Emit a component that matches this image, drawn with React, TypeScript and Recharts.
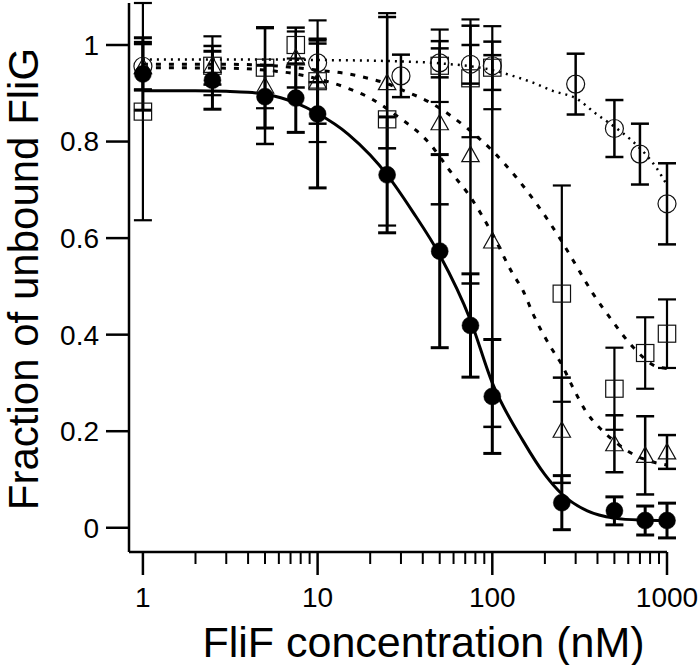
import React from 'react';
import { ComposedChart, Line, Scatter, XAxis, YAxis, ErrorBar } from 'recharts';

const FONT = '"Liberation Sans", Arial, Helvetica, sans-serif';

// FliF concentrations (nM)
const concMain = [1, 2.5, 5, 7.5, 10, 25, 50, 75, 100, 250, 500, 750, 1000];
const concOpenCircle = [1, 10, 30, 50, 75, 100, 300, 500, 700, 1000];

// Filled circles (solid fit)
const filledY = [0.94, 0.927, 0.893, 0.89, 0.857, 0.731, 0.573, 0.419, 0.272, 0.052, 0.035, 0.015, 0.015];
const filledErr = [0.075, 0.06, 0.065, 0.071, 0.153, 0.12, 0.2, 0.107, 0.118, 0.056, 0.029, 0.03, 0.036];

// Open triangles (lower dashed fit)
const triangleY = [0.955, 0.958, 0.915, 0.974, 0.925, 0.922, 0.839, 0.773, 0.594, 0.202, 0.174, 0.15, 0.157];
const triangleErr = [0.047, 0.04, 0.12, 0.062, 0.088, 0.136, 0.169, 0.267, 0.385, 0.109, 0.059, 0.081, 0.035];

// Open squares (upper dashed fit)
const squareY = [0.862, 0.957, 0.953, 1.0, 0.925, 0.846, 0.957, 0.931, 0.953, 0.485, 0.288, 0.362, 0.402];
const squareErr = [0.225, 0.061, 0.084, 0.028, 0.126, 0.22, 0.075, 0.122, 0.086, 0.224, 0.085, 0.074, 0.071];

// Open circles (dotted fit)
const openCircleY = [0.956, 0.963, 0.936, 0.963, 0.96, 0.957, 0.919, 0.827, 0.774, 0.671];
const openCircleErr = [0.05, 0.04, 0.044, 0.03, 0.04, 0.05, 0.063, 0.059, 0.063, 0.084];

// Fit curves
const fitFilledX = [1, 2, 3, 4, 5, 7.5, 10, 15, 20, 25, 35, 50, 75, 100, 150, 200, 250, 350, 500, 700, 1000];
const fitFilledY = [0.905, 0.905, 0.904, 0.902, 0.898, 0.88, 0.858, 0.815, 0.772, 0.731, 0.655, 0.565, 0.43, 0.3, 0.18, 0.11, 0.07, 0.035, 0.02, 0.016, 0.015];

const fitTriangleX = [1, 3, 5, 7.5, 10, 15, 20, 30, 37, 44, 57, 74, 100, 131, 150, 171, 222, 248, 289, 345, 411, 490, 572, 728, 1000];
const fitTriangleY = [0.953, 0.952, 0.948, 0.94, 0.93, 0.91, 0.89, 0.847, 0.822, 0.795, 0.74, 0.688, 0.609, 0.526, 0.491, 0.443, 0.367, 0.34, 0.291, 0.24, 0.207, 0.182, 0.163, 0.143, 0.13];

const fitSquareX = [1, 3, 5, 10, 15, 20, 25, 30, 44, 71, 100, 137, 180, 248, 300, 377, 470, 640, 870, 1000];
const fitSquareY = [0.96, 0.96, 0.958, 0.948, 0.94, 0.93, 0.92, 0.908, 0.881, 0.829, 0.781, 0.726, 0.67, 0.595, 0.545, 0.485, 0.436, 0.374, 0.334, 0.33];

const fitCircleX = [1, 5, 10, 30, 50, 100, 131, 171, 222, 303, 394, 490, 611, 762, 868, 1000];
const fitCircleY = [0.97, 0.97, 0.969, 0.966, 0.962, 0.948, 0.936, 0.922, 0.905, 0.889, 0.857, 0.833, 0.806, 0.772, 0.746, 0.71];

// Axis ticks
const xTicks = [1, 2, 3, 4, 5, 6, 7, 8, 9, 10, 20, 30, 40, 50, 60, 70, 80, 90, 100, 200, 300, 400, 500, 600, 700, 800, 900, 1000];
const xMajorTicks = [1, 10, 100, 1000];
const yTicks = [0, 0.2, 0.4, 0.6, 0.8, 1];

const pts = (xs: number[], ys: number[], es?: number[]) =>
  xs.map((x, i) => (es ? { x, y: ys[i], err: es[i] } : { x, y: ys[i] }));

const filledData = pts(concMain, filledY, filledErr);
const triangleData = pts(concMain, triangleY, triangleErr);
const squareData = pts(concMain, squareY, squareErr);
const openCircleData = pts(concOpenCircle, openCircleY, openCircleErr);

const fitFilled = pts(fitFilledX, fitFilledY);
const fitTriangle = pts(fitTriangleX, fitTriangleY);
const fitSquare = pts(fitSquareX, fitSquareY);
const fitCircle = pts(fitCircleX, fitCircleY);

const FilledDot = (p: any) => <circle cx={p.cx} cy={p.cy} r={8.5} fill="#000" stroke="#000" strokeWidth={0.5} />;
const OpenDot = (p: any) => <circle cx={p.cx} cy={p.cy} r={9} fill="none" stroke="#111" strokeWidth={1.2} />;
const OpenSquare = (p: any) => (
  <rect x={p.cx - 8.7} y={p.cy - 8.5} width={17.4} height={17} fill="none" stroke="#111" strokeWidth={1.2} />
);
const OpenTriangle = (p: any) => (
  <polygon
    points={`${p.cx},${p.cy - 8.5} ${p.cx - 8.7},${p.cy + 7} ${p.cx + 8.7},${p.cy + 7}`}
    fill="none"
    stroke="#111"
    strokeWidth={1.2}
  />
);

const XTick = (props: any) => {
  const { x, y, payload } = props;
  const v = payload.value;
  const major = xMajorTicks.includes(v);
  return (
    <g>
      <line x1={x} x2={x} y1={y} y2={y + (major ? 23 : 12)} stroke="#000" strokeWidth={major ? 2.5 : 2} />
      {major && (
        <text x={x} y={y + 55} textAnchor="middle" fontSize={28} fontFamily={FONT} fill="#000">
          {v}
        </text>
      )}
    </g>
  );
};

const XLabel = () => (
  <text x={423.5} y={657} textAnchor="middle" fontSize={43} fontFamily={FONT} fill="#000">
    FliF concentration (nM)
  </text>
);

const YLabel = () => (
  <text transform="translate(38, 279) rotate(-90)" textAnchor="middle" fontSize={42} fontFamily={FONT} fill="#000">
    Fraction of unbound FliG
  </text>
);

export default function App() {
  return (
    <div style={{ position: 'absolute', left: 0, top: 0, background: '#fff' }}>
      <ComposedChart width={700} height={665} margin={{ top: 3, right: 33, bottom: 0, left: 0 }}>
        <XAxis
          type="number"
          dataKey="x"
          scale="log"
          domain={[0.8325, 1000]}
          ticks={xTicks}
          interval={0}
          tickSize={0}
          tickMargin={0}
          tickLine={false}
          tick={(p: any) => <XTick {...p} />}
          height={113}
          axisLine={{ stroke: '#000', strokeWidth: 2.5 }}
          label={(p: any) => <XLabel {...p} />}
        />
        <YAxis
          type="number"
          domain={[-0.0502, 1.0848]}
          ticks={yTicks}
          interval={0}
          width={129}
          tickSize={23}
          tickMargin={7}
          tickLine={{ stroke: '#000', strokeWidth: 2.5 }}
          axisLine={{ stroke: '#000', strokeWidth: 2.5 }}
          tick={{ fill: '#000', fontSize: 28, fontFamily: FONT }}
          tickFormatter={(v: number) => String(v)}
          label={(p: any) => <YLabel {...p} />}
        />
        <Line data={fitCircle} dataKey="y" type="monotone" dot={false} stroke="#000" strokeWidth={2.5} strokeDasharray="2 5" isAnimationActive={false} />
        <Line data={fitSquare} dataKey="y" type="monotone" dot={false} stroke="#000" strokeWidth={3} strokeDasharray="5 8" isAnimationActive={false} />
        <Line data={fitTriangle} dataKey="y" type="monotone" dot={false} stroke="#000" strokeWidth={3} strokeDasharray="5 8" isAnimationActive={false} />
        <Line data={fitFilled} dataKey="y" type="monotone" dot={false} stroke="#000" strokeWidth={3} isAnimationActive={false} />
        <Scatter data={openCircleData} dataKey="y" shape={OpenDot} isAnimationActive={false}>
          <ErrorBar dataKey="err" direction="y" width={9} stroke="#000" strokeWidth={2.5} isAnimationActive={false} />
        </Scatter>
        <Scatter data={squareData} dataKey="y" shape={OpenSquare} isAnimationActive={false}>
          <ErrorBar dataKey="err" direction="y" width={9} stroke="#000" strokeWidth={2.2} isAnimationActive={false} />
        </Scatter>
        <Scatter data={triangleData} dataKey="y" shape={OpenTriangle} isAnimationActive={false}>
          <ErrorBar dataKey="err" direction="y" width={9} stroke="#000" strokeWidth={2.5} isAnimationActive={false} />
        </Scatter>
        <Scatter data={filledData} dataKey="y" shape={FilledDot} isAnimationActive={false}>
          <ErrorBar dataKey="err" direction="y" width={9} stroke="#000" strokeWidth={3} isAnimationActive={false} />
        </Scatter>
      </ComposedChart>
    </div>
  );
}
